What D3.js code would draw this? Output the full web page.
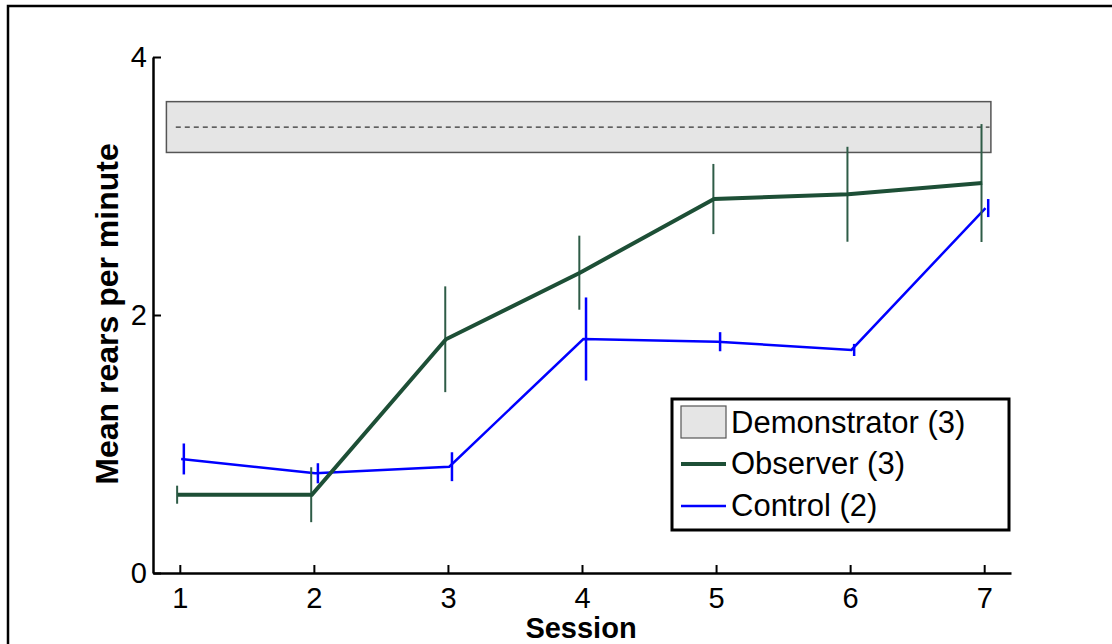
<!DOCTYPE html>
<html lang="en">
<head>
    <meta charset="UTF-8">
    <title>Mean rears per minute</title>
    <script src="https://d3js.org/d3.v7.min.js"></script>
    <style>
        body { margin: 0; background: #fff; }
        text { font-family: "Liberation Sans", Arial, Helvetica, sans-serif; }
    </style>
</head>
<body>
<div id="chart"></div>
<script>
    // Data
    const sessions = [1, 2, 3, 4, 5, 6, 7];
    const observerMean = [0.607, 0.607, 1.812, 2.328, 2.899, 2.936, 3.023];
    const observerErr = [0.07, 0.213, 0.41, 0.287, 0.272, 0.368, 0.457];
    const controlMean = [0.884, 0.773, 0.824, 1.814, 1.793, 1.729, 2.829];
    const controlErr = [0.12, 0.078, 0.112, 0.322, 0.074, 0.047, 0.07];
    const demoMean = 3.457;
    const demoErr = 0.197;
    const demoSpan = [0.9, 7.05];
    const xTicks = [1, 2, 3, 4, 5, 6, 7];
    const yTicks = [0, 2, 4];
    const legendLabels = ["Demonstrator (3)", "Observer (3)", "Control (2)"];

    const W = 1112, H = 644;
    const svg = d3.select("#chart").append("svg").attr("width", W).attr("height", H);

    // outer frame (runs off the right/bottom edge)
    svg.append("rect").attr("x", 8).attr("y", 6).attr("width", 1300).attr("height", 900)
        .attr("fill", "none").attr("stroke", "#000").attr("stroke-width", 2.5);

    const x = d3.scaleLinear().domain([0.8, 7.2]).range([153, 1011]);
    const y = d3.scaleLinear().domain([0, 4]).range([573, 57]);

    // demonstrator band
    svg.append("rect")
        .attr("x", x(demoSpan[0])).attr("y", y(demoMean + demoErr))
        .attr("width", x(demoSpan[1]) - x(demoSpan[0]))
        .attr("height", y(demoMean - demoErr) - y(demoMean + demoErr))
        .attr("fill", "#e5e5e5").attr("stroke", "#555").attr("stroke-width", 1.5);
    svg.append("line")
        .attr("x1", x(0.97)).attr("x2", x(7.04))
        .attr("y1", y(demoMean)).attr("y2", y(demoMean))
        .attr("stroke", "#333").attr("stroke-width", 1.3).attr("stroke-dasharray", "5,4");

    // axes
    const xAxis = svg.append("g").attr("transform", `translate(0,${y(0)})`)
        .call(d3.axisBottom(x).tickValues(xTicks).tickFormat(d3.format("d"))
            .tickSizeInner(-8).tickSizeOuter(0).tickPadding(14));
    const yAxis = svg.append("g").attr("transform", `translate(${x(0.8)},0)`)
        .call(d3.axisLeft(y).tickValues(yTicks).tickFormat(d3.format("d"))
            .tickSizeInner(-8).tickSizeOuter(0).tickPadding(6));
    [xAxis, yAxis].forEach(g => {
        g.attr("font-size", 29).attr("font-family", "'Liberation Sans', Arial, sans-serif");
        g.select(".domain").attr("stroke", "#000").attr("stroke-width", 2.5);
        g.selectAll(".tick line").attr("stroke", "#000").attr("stroke-width", 2);
        g.selectAll(".tick text").attr("fill", "#000").attr("font-size", 29);
    });

    // series
    const series = [
        { mean: controlMean, err: controlErr, color: "#0000ff", barColor: "#0000ff", lw: 2.5, bw: 2.5, lineOff: 0.01, barOff: 0.03 },
        { mean: observerMean, err: observerErr, color: "#1d4f36", barColor: "#2e5c47", lw: 4, bw: 2, lineOff: -0.015, barOff: -0.02 }
    ];
    series.forEach(s => {
        const pts = sessions.map((d, i) => ({ s: d, m: s.mean[i], e: s.err[i] }));
        svg.append("g").selectAll("line").data(pts).enter().append("line")
            .attr("x1", d => x(d.s + s.barOff)).attr("x2", d => x(d.s + s.barOff))
            .attr("y1", d => y(d.m - d.e)).attr("y2", d => y(d.m + d.e))
            .attr("stroke", s.barColor).attr("stroke-width", s.bw);
        svg.append("path").datum(pts)
            .attr("d", d3.line().x(d => x(d.s + s.lineOff)).y(d => y(d.m)))
            .attr("fill", "none").attr("stroke", s.color).attr("stroke-width", s.lw)
            .attr("stroke-linejoin", "miter");
    });

    // axis titles
    svg.append("text").attr("x", 581).attr("y", 638).attr("text-anchor", "middle")
        .style("font-size", "29px").style("font-weight", "bold").text("Session");
    svg.append("text").attr("transform", "translate(118,314) rotate(-90)").attr("text-anchor", "middle")
        .style("font-size", "32px").style("font-weight", "bold").text("Mean rears per minute");

    // legend
    const lg = svg.append("g");
    lg.append("rect").attr("x", 672).attr("y", 399).attr("width", 337).attr("height", 131)
        .attr("fill", "#fff").attr("stroke", "#000").attr("stroke-width", 3);
    lg.append("rect").attr("x", 681).attr("y", 406).attr("width", 45).attr("height", 32)
        .attr("fill", "#e5e5e5").attr("stroke", "#555").attr("stroke-width", 1.2);
    lg.append("line").attr("x1", 681).attr("x2", 726).attr("y1", 464).attr("y2", 464)
        .attr("stroke", series[1].color).attr("stroke-width", 4);
    lg.append("line").attr("x1", 681).attr("x2", 726).attr("y1", 506).attr("y2", 506)
        .attr("stroke", series[0].color).attr("stroke-width", 2.5);
    const baselines = [433, 474, 516];
    lg.selectAll("text.lab").data(legendLabels).enter().append("text").attr("class", "lab")
        .attr("x", 731).attr("y", (d, i) => baselines[i])
        .style("font-size", "31px").attr("fill", "#000").text(d => d);
</script>
</body>
</html>
